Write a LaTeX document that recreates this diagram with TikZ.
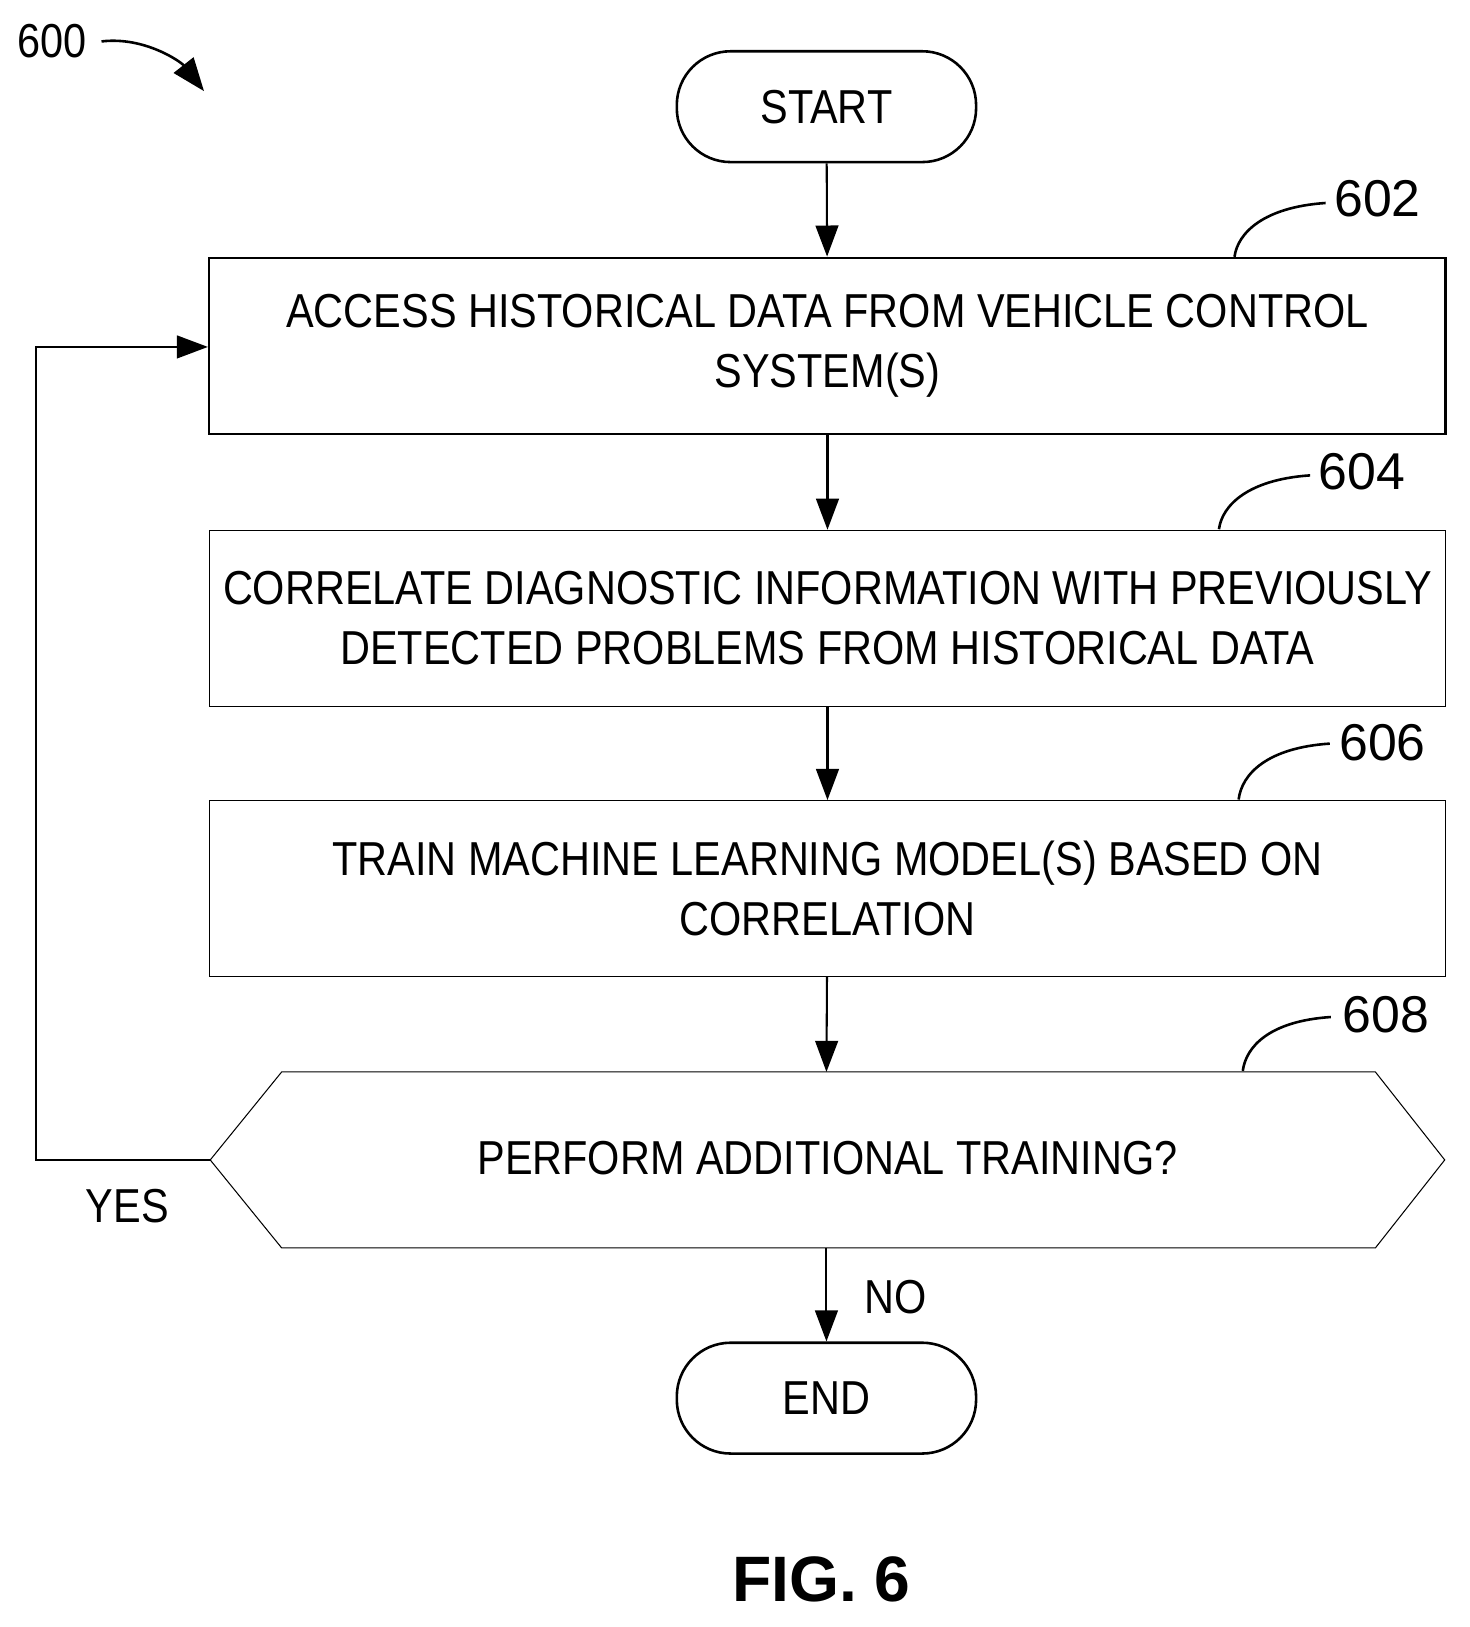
\documentclass[tikz,border=0pt]{standalone}
\usepackage{fontspec}
\setmainfont{Liberation Sans}[FakeStretch=0.87]
\newfontfamily\figfont{Liberation Sans}
\usetikzlibrary{arrows.meta}
\begin{document}
\begin{tikzpicture}[x=1pt,y=-1pt,
  txt/.style={font=\fontsize{46}{58}\selectfont, align=center},
  lbl/.style={font=\fontsize{46}{50}\selectfont},
  num/.style={font=\fontsize{50}{54}\selectfont\addfontfeature{FakeStretch=1}},
  arr/.style={line width=2pt,-{Triangle[length=30pt,width=22pt]}},
  lead/.style={line width=2.5pt},
  term/.style={draw,line width=2.5pt,rounded corners=52pt,minimum width=289pt,minimum height=107pt,txt},
  box/.style={draw,line width=1pt,minimum width=1193pt,minimum height=170pt,txt}]
\useasboundingbox (0,0) rectangle (1419,1571);
\node[term] (start) at (798,103) {START};
\node[box,line width=2.5pt,minimum width=1194pt] (b602) at (799,334) {ACCESS HISTORICAL DATA FROM VEHICLE CONTROL\\SYSTEM(S)};
\node[box] (b604) at (799,597) {CORRELATE DIAGNOSTIC INFORMATION WITH PREVIOUSLY\\DETECTED PROBLEMS FROM HISTORICAL DATA};
\node[box] (b606) at (799,858) {TRAIN MACHINE LEARNING MODEL(S) BASED ON\\CORRELATION};
\draw[line width=1pt] (203,1120) -- (272,1035) -- (1328,1035) -- (1395,1120) -- (1328,1205) -- (272,1205) -- cycle;
\coordinate (hl) at (203,1120);
\coordinate (ht) at (798,1035);
\coordinate (hb) at (798,1205);
\node[txt] (q) at (799,1118) {PERFORM ADDITIONAL TRAINING?};
\node[term] (end) at (798,1350) {END};
\draw[arr] (start) -- (b602);
\draw[arr] (b602) -- (b604);
\draw[arr] (b604) -- (b606);
\draw[arr] (b606) -- (ht);
\draw[arr] (hb) -- (end);
\coordinate (c1) at (35,1120);
\coordinate (c2) at (35,335);
\draw[arr] (hl) -- (c1) -- (c2) -- (b602.west |- c2);
\node[lbl] (yes) at (123,1165) {YES};
\node[lbl] (no) at (865,1252) {NO};
\node[lbl] (l600) at (50,40) {600};
\coordinate (a600s) at (98,40);
\coordinate (a600e) at (197,88);
\draw[line width=2.5pt,-{Triangle[length=32pt,width=24pt]}] (a600s) .. controls (140,35) and (175,60) .. (a600e);
\node[num] (l602) at (1330,192) {602};
\node[num] (l604) at (1315,455) {604};
\node[num] (l606) at (1335,717) {606};
\node[num] (l608) at (1338,980) {608};
\coordinate (p602) at (1192,248);
\coordinate (p604) at (1177,511);
\coordinate (p606) at (1196,772);
\coordinate (p608) at (1200,1034);
\draw[lead] (1280,196) .. controls (1220,200) and (1195,225) .. (p602);
\draw[lead] (1265,459) .. controls (1205,463) and (1180,488) .. (p604);
\draw[lead] (1284,718) .. controls (1224,722) and (1199,747) .. (p606);
\draw[lead] (1285,982) .. controls (1225,986) and (1203,1011) .. (p608);
\node[font=\figfont\bfseries\fontsize{62}{70}\selectfont] (fig) at (793,1525) {FIG. 6};
\end{tikzpicture}
\end{document}
